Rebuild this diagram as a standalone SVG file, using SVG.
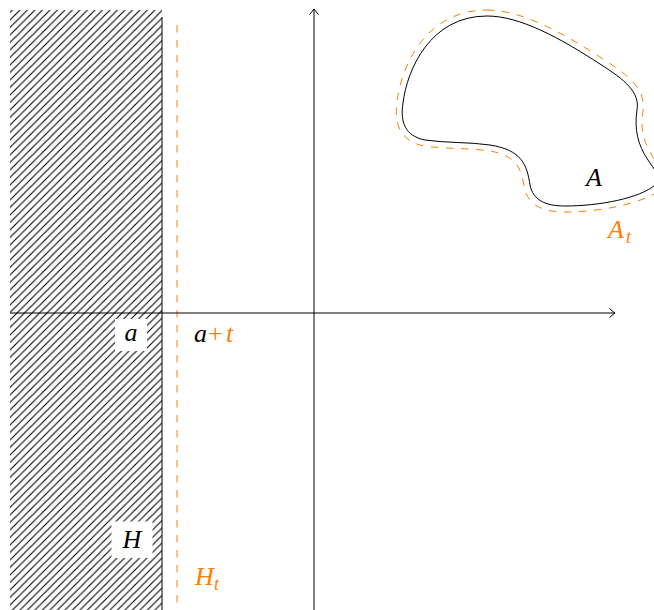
<svg xmlns="http://www.w3.org/2000/svg" width="654" height="610" viewBox="0 0 654 610">
<style>
text{font-family:"Liberation Serif","Times New Roman","DejaVu Serif",serif;font-style:italic;font-size:26px;fill:#000}
.or{fill:#ff8000}
.up{font-style:normal}
.sub{font-size:18px}
.ax{stroke:#000;stroke-width:1;fill:none}
.dash{stroke:#ff8000;stroke-width:1;fill:none;stroke-dasharray:7.5 7.5}
</style>
<defs>
<pattern id="hatch" patternUnits="userSpaceOnUse" width="7.5" height="7.5">
<path d="M-1,1 L1,-1 M0,7.5 L7.5,0 M6.5,8.5 L8.5,6.5" stroke="#000" stroke-width="1.1"/>
</pattern>
<marker id="arr" markerUnits="userSpaceOnUse" markerWidth="12" markerHeight="12" refX="10" refY="6" orient="auto">
<path d="M4.5,1.5 Q8.5,5 10,6 Q8.5,7 4.5,10.5" stroke="#000" stroke-width="1" fill="none"/>
</marker>
</defs>
<g id="halfplane-H">
<rect x="10" y="10" width="152" height="600" fill="url(#hatch)"/>
<line x1="162" y1="17" x2="162" y2="610" class="ax"/>
</g>
<g id="boundary-Ht">
<line x1="177" y1="25" x2="177" y2="610" class="dash"/>
</g>
<g id="connectors">
<line x1="10" y1="313" x2="615" y2="313" class="ax" marker-end="url(#arr)"/>
<line x1="314" y1="610" x2="314" y2="9" class="ax" marker-end="url(#arr)"/>
</g>
<g id="set-A">
<path class="ax" stroke-width="1.1" d="M487,16 C520,16 560,38 600,64 C625,80 640,92 637,110 C634,130 638,145 648,160 C656,172 662,178 655,185 C640,198 600,206 565,206 C545,206 533,200 530,185 C527,165 522,150 490,145 C470,142 445,143 425,140 C405,136 400,122 403,103 C407,70 430,16 487,16 Z"/>
<text x="586" y="186" font-family="Liberation Serif">A</text>
</g>
<g id="set-At">
<path class="dash" d="M487,10 C522,10 563,33 603,59 C630,76 646,90 643,111 C640,130 644,143 653,157 C662,171 670,183 659,191 C642,203 602,212 565,212 C541,212 527,204 524,186 C521,168 517,156 490,151 C470,148 445,149 424,146 C400,141 394,124 397,102 C401,66 426,10 487,10 Z"/>
<text class="or" x="608" y="238">A<tspan class="sub" x="626" y="243">t</tspan></text>
</g>
<g id="label-a">
<rect x="115" y="319" width="32" height="32" fill="#fff"/>
<text x="131" y="341" text-anchor="middle">a</text>
</g>
<g id="label-a-plus-t">
<text x="194" y="342">a<tspan class="or up" x="208">+</tspan><tspan class="or" x="226">t</tspan></text>
</g>
<g id="label-H">
<rect x="111.5" y="521.5" width="41" height="36.5" fill="#fff"/>
<text x="132" y="548" text-anchor="middle">H</text>
</g>
<g id="label-Ht">
<text class="or" x="195" y="585">H<tspan class="sub" x="214" y="590">t</tspan></text>
</g>
</svg>
